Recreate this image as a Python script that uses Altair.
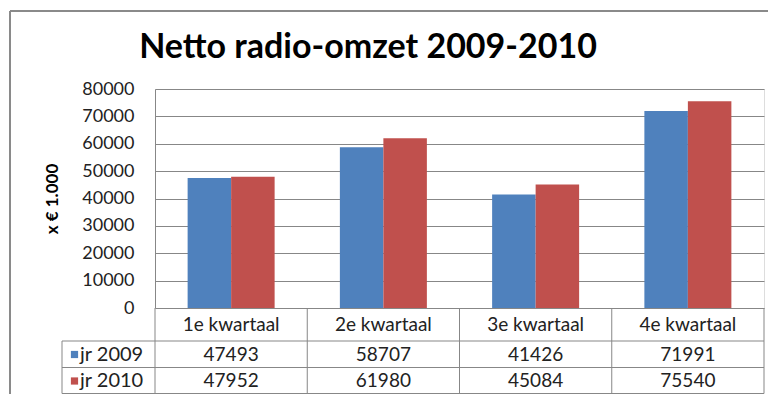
import altair as alt
import pandas as pd

categories = ["1e kwartaal", "2e kwartaal", "3e kwartaal", "4e kwartaal"]
series = ["jr 2009", "jr 2010"]
values_2009 = [47493, 58707, 41426, 71991]
values_2010 = [47952, 61980, 45084, 75540]
y_ticks = [0, 10000, 20000, 30000, 40000, 50000, 60000, 70000, 80000]
colors = ["#4F81BD", "#C0504D"]
title_text = "Netto radio-omzet 2009-2010"
y_title = "x € 1.000"

rows = []
for s, vals in zip(series, [values_2009, values_2010]):
    for c, v in zip(categories, vals):
        rows.append({"kwartaal": c, "reeks": s, "omzet": v})
df = pd.DataFrame(rows)
cat_df = pd.DataFrame({"kwartaal": categories})
one = pd.DataFrame({"a": [0]})

W, H = 609, 219
FONT = "Lato"
GRID = "#878787"
FRAME = "#8a8a8a"
HEADER_Y = 235.5
ROW_Y = [265.5, 292]
ROW_LINES = [252, 278.5, 304.5]
LEFT_X = -93

xscale = alt.Scale(domain=categories, paddingInner=0, paddingOuter=0)
xenc = alt.X("kwartaal:N", scale=xscale, axis=None, sort=categories)
color = alt.Color("reeks:N", scale=alt.Scale(domain=series, range=colors), legend=None)

bars = alt.Chart(df).mark_bar().encode(
    x=xenc,
    xOffset=alt.XOffset("reeks:N", scale=alt.Scale(domain=series, paddingInner=0, paddingOuter=0.75)),
    y=alt.Y(
        "omzet:Q",
        scale=alt.Scale(domain=[0, 80000], nice=False),
        axis=alt.Axis(
            values=y_ticks, format="d", grid=True, gridColor=GRID, gridWidth=1,
            domain=True, domainColor=GRID, ticks=False,
            labelFont=FONT, labelFontSize=18, labelColor="#222", labelPadding=21,
            title=y_title, titleFont=FONT, titleFontSize=17, titleFontWeight="bold",
            titleColor="#000", titleX=-103, titleY=H / 2, titleBaseline="middle",
        ),
    ),
    color=color,
)

layers = [bars]

# chart title
layers.append(
    alt.Chart(pd.DataFrame({"t": [title_text]})).mark_text(
        font=FONT, fontSize=34, fontWeight="bold", color="#000", align="center", baseline="alphabetic"
    ).encode(x=alt.value(213), y=alt.value(-31), text="t:N")
)

# table header
layers.append(
    alt.Chart(cat_df).mark_text(font=FONT, fontSize=19, color="#222").encode(
        x=xenc, y=alt.value(HEADER_Y), text="kwartaal:N"
    )
)

# vertical table lines
layers.append(
    alt.Chart(cat_df).mark_rule(color=GRID, strokeWidth=1).encode(
        x=alt.X("kwartaal:N", scale=xscale, axis=None, sort=categories, bandPosition=0),
        y=alt.value(H), y2=alt.value(ROW_LINES[-1]),
    )
)
layers.append(
    alt.Chart(cat_df).transform_filter(alt.datum.kwartaal == categories[-1]).mark_rule(color=GRID, strokeWidth=1).encode(
        x=alt.X("kwartaal:N", scale=xscale, axis=None, sort=categories, bandPosition=1),
        y=alt.value(H), y2=alt.value(ROW_LINES[-1]),
    )
)
layers.append(
    alt.Chart(one).mark_rule(color=GRID, strokeWidth=1).encode(
        x=alt.value(LEFT_X), y=alt.value(ROW_LINES[0]), y2=alt.value(ROW_LINES[-1])
    )
)
for ly in ROW_LINES:
    layers.append(
        alt.Chart(one).mark_rule(color=GRID, strokeWidth=1).encode(
            x=alt.value(LEFT_X), x2=alt.value(W), y=alt.value(ly)
        )
    )

# table rows
for i, s in enumerate(series):
    sub = alt.Chart(df).transform_filter(alt.datum.reeks == s)
    layers.append(
        sub.mark_text(font=FONT, fontSize=19, color="#222").encode(
            x=xenc, y=alt.value(ROW_Y[i]), text=alt.Text("omzet:Q", format="d")
        )
    )
    leg = alt.Chart(pd.DataFrame({"reeks": [s]}))
    layers.append(
        leg.mark_square(size=52, opacity=1).encode(
            x=alt.value(-80.5), y=alt.value(ROW_Y[i]), color=color
        )
    )
    layers.append(
        leg.mark_text(font=FONT, fontSize=20, color="#222", align="left").encode(
            x=alt.value(-75), y=alt.value(ROW_Y[i]), text="reeks:N"
        )
    )

# outer frame
layers.append(
    alt.Chart(one).mark_rule(color=FRAME, strokeWidth=2).encode(
        x=alt.value(-145), x2=alt.value(W + 4), y=alt.value(-78)
    )
)
layers.append(
    alt.Chart(one).mark_rule(color=FRAME, strokeWidth=2).encode(
        x=alt.value(-145), y=alt.value(-78), y2=alt.value(H + 110)
    )
)

chart = alt.layer(*layers).properties(
    width=W,
    height=H,
    autosize=alt.AutoSizeParams(type="none"),
    padding={"left": 147, "top": 81, "right": 4, "bottom": 86},
).configure_view(stroke=None).configure(background="white")

chart.save("out.html", embed_options={"renderer": "svg", "actions": False})
